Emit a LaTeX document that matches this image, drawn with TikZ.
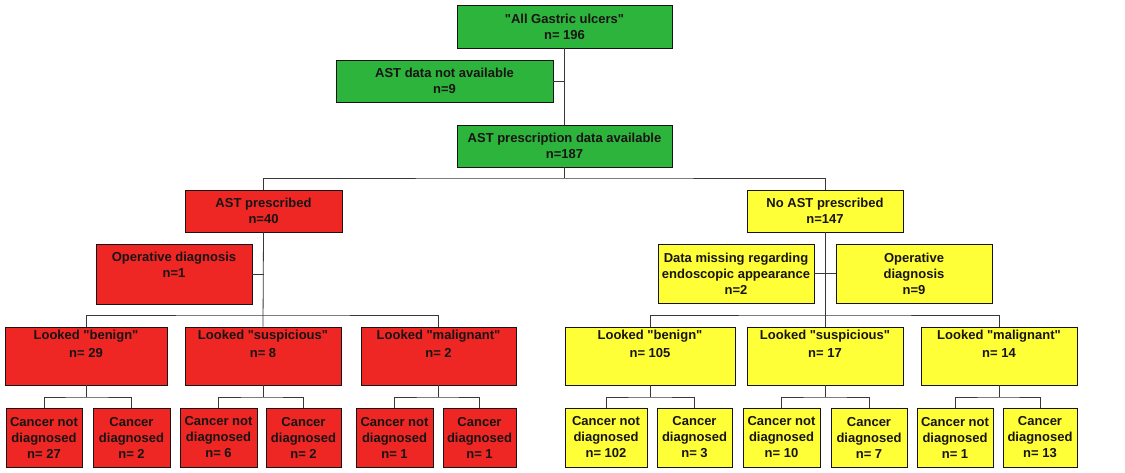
\documentclass[tikz,border=0pt]{standalone}
\usepackage{fontspec}
\setmainfont{Liberation Sans}[Ligatures=TeXOff]
\definecolor{gbox}{RGB}{45,180,60}
\definecolor{rbox}{RGB}{238,38,36}
\definecolor{ybox}{RGB}{255,255,55}
\definecolor{ink}{RGB}{25,20,20}
\begin{document}
\begin{tikzpicture}[x=1pt,y=-1pt,
  box/.style={draw=ink, line width=0.8pt, inner sep=0pt, align=center,
    font=\fontsize{13}{16}\selectfont\bfseries, text=ink},
  txt/.style={inner sep=0pt, align=center, anchor=north,
    font=\fontsize{13}{16}\selectfont\bfseries, text=ink},
  txtl/.style={txt, font=\fontsize{13}{18}\selectfont\bfseries},
  wire/.style={draw=ink!85, line width=0.8pt}]
\useasboundingbox[fill=white] (0,0) rectangle (1125,472);
\coordinate (rowA) at (0,178);
\coordinate (rowB) at (0,315);
\coordinate (rowC) at (0,397);

% top (green)
\node[box, fill=gbox, minimum width=215pt, minimum height=43pt] (all) at (564.5,26.5) {"All Gastric ulcers"\\n= 196};
\node[box, fill=gbox, minimum width=217pt, minimum height=42pt] (notav) at (444.5,81) {AST data not available\\n=9};
\node[box, fill=gbox, minimum width=215pt, minimum height=42pt] (avail) at (564.5,146) {AST prescription data available\\n=187};

% level 2
\node[box, fill=rbox, minimum width=157pt, minimum height=42pt] (astp) at (263.5,211) {AST prescribed\\n=40};
\node[box, fill=rbox, minimum width=156pt, minimum height=60pt] (opr) at (174,274) {};
\node[txt] (oprt) at ([yshift=-8pt]opr.north) {Operative diagnosis\\n=1};
\node[box, fill=ybox, minimum width=156pt, minimum height=42pt] (noast) at (825,211) {No AST prescribed\\n=147};
\node[box, fill=ybox, minimum width=156pt, minimum height=59pt] (miss) at (736,273.5) {Data missing regarding\\endoscopic appearance\\n=2};
\node[box, fill=ybox, minimum width=156pt, minimum height=59pt] (opy) at (914,273.5) {Operative\\diagnosis\\n=9};

% looked row
\node[box, fill=rbox, minimum width=162pt, minimum height=58pt] (lb) at (86,356) {};
\node[txtl] at ([yshift=-3pt]lb.north) {Looked "benign"\\n= 29};
\node[box, fill=rbox, minimum width=156pt, minimum height=58pt] (ls) at (263,356) {};
\node[txtl] at ([yshift=-3pt]ls.north) {Looked "suspicious"\\n= 8};
\node[box, fill=rbox, minimum width=155pt, minimum height=58pt] (lm) at (438.5,356) {};
\node[txtl] at ([yshift=-3pt]lm.north) {Looked "malignant"\\n= 2};
\node[box, fill=ybox, minimum width=170pt, minimum height=58pt] (rb) at (650,356) {};
\node[txtl] at ([yshift=-3pt]rb.north) {Looked "benign"\\n= 105};
\node[box, fill=ybox, minimum width=156pt, minimum height=58pt] (rs) at (825,356) {};
\node[txtl] at ([yshift=-3pt]rs.north) {Looked "suspicious"\\n= 17};
\node[box, fill=ybox, minimum width=156pt, minimum height=58pt] (rm) at (999,356) {};
\node[txtl] at ([yshift=-3pt]rm.north) {Looked "malignant"\\n= 14};

% children
\node[box, fill=rbox, minimum width=76pt, minimum height=59pt] (c1) at (44,437.5) {Cancer not\\diagnosed\\n= 27};
\node[box, fill=rbox, minimum width=77pt, minimum height=59pt] (c2) at (131.5,437.5) {Cancer\\diagnosed\\n= 2};
\node[box, fill=rbox, minimum width=77pt, minimum height=59pt] (c3) at (218.5,437.5) {Cancer not\\diagnosed\\n= 6};
\node[box, fill=rbox, minimum width=75pt, minimum height=59pt] (c4) at (303.5,437.5) {Cancer\\diagnosed\\n= 2};
\node[box, fill=rbox, minimum width=77pt, minimum height=59pt] (c5) at (394.5,437.5) {Cancer not\\diagnosed\\n= 1};
\node[box, fill=rbox, minimum width=73pt, minimum height=59pt] (c6) at (479.5,437.5) {Cancer\\diagnosed\\n= 1};
\node[box, fill=ybox, minimum width=82pt, minimum height=59pt] (d1) at (606,437.5) {Cancer not\\diagnosed\\n= 102};
\node[box, fill=ybox, minimum width=75pt, minimum height=59pt] (d2) at (694.5,437.5) {Cancer\\diagnosed\\n= 3};
\node[box, fill=ybox, minimum width=77pt, minimum height=59pt] (d3) at (781.5,437.5) {Cancer not\\diagnosed\\n= 10};
\node[box, fill=ybox, minimum width=76pt, minimum height=59pt] (d4) at (869,437.5) {Cancer\\diagnosed\\n= 7};
\node[box, fill=ybox, minimum width=76pt, minimum height=59pt] (d5) at (955,437.5) {Cancer not\\diagnosed\\n= 1};
\node[box, fill=ybox, minimum width=74pt, minimum height=59pt] (d6) at (1040,437.5) {Cancer\\diagnosed\\n= 13};

% connectors
\draw[wire] (all.south) -- (avail.north);
\draw[wire] (notav.east) -- (notav.east -| all.south);
\draw[wire] (avail.south) -- (avail.south |- rowA);
\draw[wire] (astp.north) |- (avail.south |- rowA) -| (noast.north);

\draw[wire] (astp.south) -- (ls.north);
\draw[wire] (opr.east) -- (opr.east -| astp.south);
\draw[wire] (lb.north) |- (astp.south |- rowB) -| (lm.north);

\draw[wire] (noast.south) -- (rs.north);
\draw[wire] (miss.east) -- (opy.west);
\draw[wire] (rb.north) |- (noast.south |- rowB) -| (rm.north);

\foreach \p/\a/\b in {lb/c1/c2, ls/c3/c4, lm/c5/c6, rb/d1/d2, rs/d3/d4, rm/d5/d6}{
  \draw[wire] (\p.south) -- (\p.south |- rowC);
  \draw[wire] (\a.north) |- (\p.south |- rowC) -| (\b.north);
}
\end{tikzpicture}
\end{document}
